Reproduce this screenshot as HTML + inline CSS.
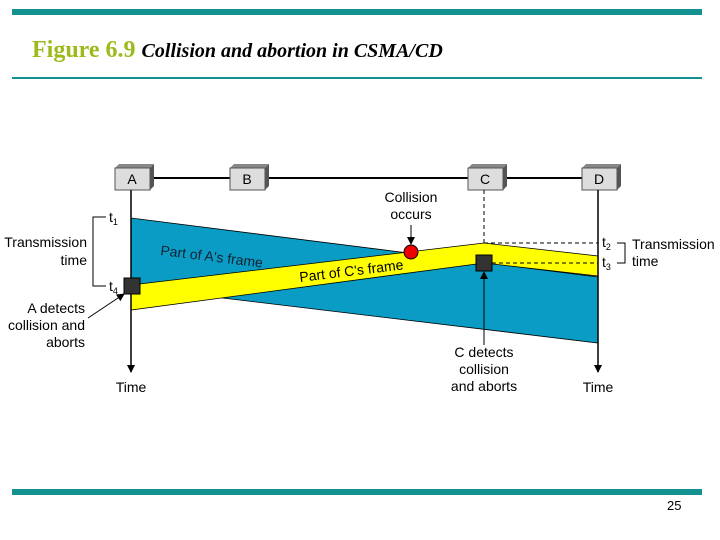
<!DOCTYPE html>
<html><head><meta charset="utf-8"><style>
body{margin:0;width:720px;height:540px;background:#fff;overflow:hidden}
</style></head><body>
<svg width="720" height="540" xmlns="http://www.w3.org/2000/svg" style="position:absolute;left:0;top:0">
<defs><marker id="ah" markerWidth="8" markerHeight="8" refX="7" refY="4" orient="auto" markerUnits="userSpaceOnUse"><path d="M0,0 L8,4 L0,8 z" fill="#000"/></marker></defs>
<rect x="12" y="9" width="690" height="6" fill="#13918e"/>
<rect x="12" y="77" width="690" height="2" fill="#13918e"/>
<rect x="12" y="489" width="690" height="6" fill="#13918e"/>
<text x="32" y="57" font-family="Liberation Serif" font-weight="bold" font-size="24" fill="#9bbb1c">Figure 6.9 <tspan fill="#000" font-style="italic" font-size="20">Collision and abortion in CSMA/CD</tspan></text>
<text x="667" y="510" font-family="Liberation Sans" font-size="13">25</text>
<line x1="148" y1="178" x2="585" y2="178" stroke="#000" stroke-width="2"/>
<g font-family="Liberation Sans" font-size="14" text-anchor="middle">
<g><path d="M150,168 l4,-4 v22 l-4,4z" fill="#555"/><path d="M115,168 l4,-4 h35 l-4,4z" fill="#888"/><rect x="115" y="168" width="35" height="22" fill="#ddd" stroke="#555"/><text x="132" y="184">A</text></g>
<g><path d="M265,168 l4,-4 v22 l-4,4z" fill="#555"/><path d="M230,168 l4,-4 h35 l-4,4z" fill="#888"/><rect x="230" y="168" width="35" height="22" fill="#ddd" stroke="#555"/><text x="247" y="184">B</text></g>
<g><path d="M503,168 l4,-4 v22 l-4,4z" fill="#555"/><path d="M468,168 l4,-4 h35 l-4,4z" fill="#888"/><rect x="468" y="168" width="35" height="22" fill="#ddd" stroke="#555"/><text x="485" y="184">C</text></g>
<g><path d="M617,168 l4,-4 v22 l-4,4z" fill="#555"/><path d="M582,168 l4,-4 h35 l-4,4z" fill="#888"/><rect x="582" y="168" width="35" height="22" fill="#ddd" stroke="#555"/><text x="599" y="184">D</text></g>
</g>
<polygon points="131,218 598,277 598,343 131,287" fill="#0a9cc4" stroke="#000" stroke-width="0.8"/>
<polygon points="131,285 484,243 598,256 598,276 484,263 131,310" fill="#ffff00" stroke="#000" stroke-width="0.8"/>
<line x1="131" y1="190" x2="131" y2="372" stroke="#000" stroke-width="1.5" marker-end="url(#ah)"/>
<line x1="598" y1="190" x2="598" y2="372" stroke="#000" stroke-width="1.5" marker-end="url(#ah)"/>
<line x1="484" y1="190" x2="484" y2="243" stroke="#000" stroke-dasharray="4,3"/>
<line x1="484" y1="243" x2="598" y2="243" stroke="#000" stroke-dasharray="4,3"/>
<line x1="492" y1="263" x2="598" y2="263" stroke="#000" stroke-dasharray="4,3"/>
<line x1="484" y1="345" x2="484" y2="272" stroke="#000" marker-end="url(#ah)"/>
<line x1="411" y1="225" x2="411" y2="244" stroke="#000" marker-end="url(#ah)"/>
<line x1="88" y1="318" x2="124" y2="294" stroke="#000" marker-end="url(#ah)"/>
<circle cx="411" cy="252" r="7" fill="#e00" stroke="#000"/>
<rect x="124" y="278" width="16" height="16" fill="#333" stroke="#000"/>
<rect x="476" y="255" width="16" height="16" fill="#333" stroke="#000"/>
<path d="M106,217 h-13 v69 h13" fill="none" stroke="#000"/>
<path d="M617,243 h8 v20 h-8" fill="none" stroke="#000"/>
<g font-family="Liberation Sans" font-size="14" fill="#000">
<text x="109" y="222">t<tspan font-size="9" dy="3">1</tspan></text>
<text x="109" y="291">t<tspan font-size="9" dy="3">4</tspan></text>
<text x="602" y="247">t<tspan font-size="9" dy="3">2</tspan></text>
<text x="602" y="267">t<tspan font-size="9" dy="3">3</tspan></text>
<g text-anchor="end"><text x="87" y="247">Transmission</text><text x="87" y="265">time</text>
<text x="85" y="313">A detects</text><text x="85" y="330">collision and</text><text x="85" y="347">aborts</text></g>
<text x="632" y="249">Transmission</text><text x="632" y="266">time</text>
<g text-anchor="middle"><text x="411" y="202">Collision</text><text x="411" y="219">occurs</text>
<text x="484" y="357">C detects</text><text x="484" y="374">collision</text><text x="484" y="391">and aborts</text>
<text x="131" y="392">Time</text><text x="598" y="392">Time</text></g>
<text x="160" y="255" transform="rotate(7 160 255)" fill="#123">Part of A's frame</text>
<text x="300" y="282" transform="rotate(-7 300 282)">Part of C's frame</text>
</g>
</svg>
</body></html>
